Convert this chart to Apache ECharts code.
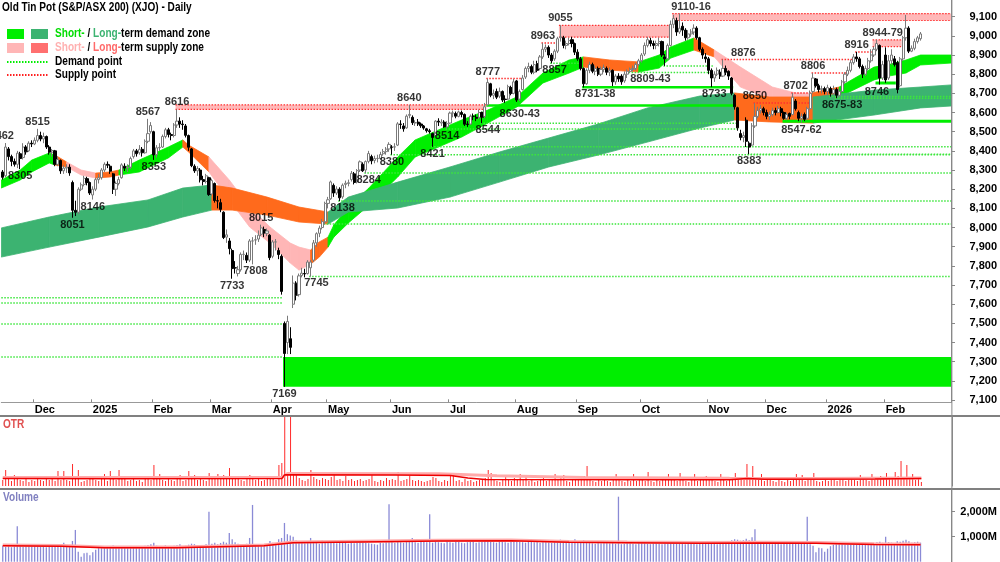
<!DOCTYPE html>
<html><head><meta charset="utf-8">
<script src="https://cdn.jsdelivr.net/npm/echarts@6/dist/echarts.min.js"></script>
<style>html,body{margin:0;padding:0;background:#fff}#c{width:1000px;height:562px}</style>
</head><body><div id="c"></div><script>
// ---------- DATA ----------
// candles: [open, close, low, high]
const nov24=[[8290,8262,8250,8300],[8270,8420,8262,8441],[8410,8370,8350,8420],[8370,8345,8320,8380],[8345,8330,8318,8360],[8330,8388,8310,8400],[8385,8360,8305,8395],[8365,8420,8355,8440],[8420,8395,8380,8430],[8400,8440,8395,8450],[8440,8436,8420,8455]];
const dec24=[[8436,8455,8430,8470],[8455,8480,8445,8515],[8480,8462,8450,8500],[8462,8475,8440,8495],[8475,8420,8410,8480],[8420,8393,8380,8430],[8393,8402,8370,8410],[8400,8330,8320,8405],[8330,8355,8320,8370],[8350,8296,8280,8355],[8296,8310,8280,8325],[8310,8315,8285,8330],[8315,8285,8270,8330],[8235,8090,8051,8245],[8090,8080,8060,8140],[8080,8200,8070,8210],[8200,8223,8190,8235],[8225,8257,8215,8270],[8255,8235,8220,8265],[8235,8180,8170,8240]];
const jan25=[[8170,8200,8146,8215],[8200,8250,8190,8260],[8250,8260,8230,8280],[8260,8300,8250,8310],[8300,8330,8290,8340],[8330,8325,8310,8345],[8320,8294,8280,8330],[8280,8200,8175,8285],[8200,8230,8165,8240],[8230,8250,8220,8265],[8260,8327,8255,8335],[8320,8310,8295,8335],[8310,8315,8290,8330],[8315,8360,8305,8370],[8370,8400,8360,8410],[8400,8385,8370,8410],[8390,8408,8380,8430],[8408,8390,8370,8420],[8390,8450,8385,8460],[8450,8490,8440,8567],[8500,8532,8490,8550]];
const feb25=[[8500,8379,8353,8505],[8380,8416,8365,8430],[8416,8418,8400,8440],[8420,8475,8415,8485],[8475,8510,8465,8520],[8510,8485,8470,8520],[8485,8480,8455,8495],[8480,8535,8470,8545],[8535,8555,8520,8616],[8555,8540,8520,8575],[8540,8537,8510,8560],[8530,8481,8470,8540],[8480,8419,8400,8485],[8410,8323,8315,8415],[8320,8296,8285,8330],[8296,8308,8270,8320],[8300,8249,8235,8310],[8250,8240,8220,8270],[8240,8270,8230,8280],[8260,8172,8165,8265]];
const mar25=[[8175,8245,8165,8255],[8230,8141,8130,8235],[8140,8138,8100,8165],[8130,8095,8080,8150],[8080,7948,7940,8085],[7950,7962,7920,7990],[7930,7890,7860,7945],[7880,7786,7733,7890],[7790,7789,7760,7825],[7760,7780,7745,7800],[7780,7860,7770,7870],[7860,7860,7830,7880],[7855,7830,7815,7870],[7830,7930,7820,7940],[7930,7930,7808,7950],[7935,7936,7910,7960],[7940,7960,7925,7985],[7965,7998,7955,8015],[7990,7971,7950,8005],[7970,7982,7955,7995],[7960,7843,7830,7965]];
const apr25=[[7850,7925,7840,7935],[7925,7925,7880,7940],[7880,7859,7835,7895],[7850,7667,7650,7860],[7500,7343,7169,7510],[7400,7510,7340,7540],[7420,7375,7340,7480],[7600,7710,7580,7750],[7710,7647,7620,7720],[7650,7748,7640,7760],[7750,7762,7740,7790],[7760,7758,7740,7785],[7760,7820,7755,7830],[7790,7820,7745,7830],[7830,7920,7820,7935],[7920,7968,7900,7975],[7970,7997,7950,8010],[8000,8031,7990,8045],[8030,8126,8018,8135]];
const may25=[[8126,8145,8100,8160],[8150,8238,8145,8245],[8220,8180,8160,8230],[8180,8201,8170,8215],[8200,8155,8138,8210],[8160,8221,8150,8230],[8225,8231,8205,8245],[8230,8234,8215,8250],[8250,8283,8240,8295],[8280,8235,8225,8290],[8240,8297,8230,8305],[8300,8343,8290,8350],[8330,8296,8290,8340],[8300,8344,8284,8350],[8345,8386,8335,8400],[8370,8348,8330,8380],[8350,8360,8335,8375],[8360,8361,8340,8380],[8360,8381,8355,8395],[8385,8396,8375,8410],[8396,8409,8380,8420],[8410,8434,8395,8445]];
const jun25=[[8420,8419,8380,8430],[8420,8421,8400,8440],[8430,8541,8425,8550],[8540,8538,8515,8560],[8530,8515,8500,8545],[8520,8581,8515,8590],[8585,8590,8570,8640],[8575,8547,8535,8585],[8545,8548,8530,8560],[8550,8540,8530,8566],[8540,8531,8520,8548],[8530,8519,8510,8535],[8515,8505,8495,8520],[8505,8500,8490,8515],[8490,8470,8421,8495],[8480,8555,8475,8560],[8555,8550,8530,8570],[8545,8550,8530,8565],[8550,8525,8520,8560],[8525,8542,8514,8555]];
const jul25=[[8545,8597,8540,8605],[8597,8598,8575,8610],[8595,8581,8570,8605],[8580,8603,8575,8610],[8600,8590,8575,8610],[8590,8539,8530,8595],[8540,8538,8525,8555],[8540,8581,8535,8590],[8580,8580,8560,8595],[8575,8570,8555,8590],[8575,8600,8565,8615],[8600,8576,8544,8605],[8580,8630,8570,8650],[8640,8757,8635,8777],[8750,8690,8680,8755],[8690,8700,8670,8720],[8710,8680,8670,8725],[8685,8710,8675,8730],[8710,8665,8655,8715],[8670,8668,8650,8690],[8670,8735,8665,8745],[8730,8700,8690,8740],[8700,8760,8695,8775]];
const aug25=[[8765,8665,8655,8770],[8670,8710,8660,8720],[8720,8780,8715,8795],[8785,8830,8775,8840],[8830,8840,8810,8860],[8840,8810,8800,8850],[8810,8850,8800,8870],[8855,8820,8810,8870],[8830,8890,8820,8900],[8890,8930,8880,8963],[8930,8940,8915,8955],[8940,8900,8885,8950],[8900,8870,8857,8910],[8880,8920,8870,8930],[8920,8985,8910,8995],[8990,8995,8970,9055],[8990,8950,8935,9000],[8950,8960,8930,8975],[8960,8975,8950,8990],[8980,8960,8940,8995],[8960,8915,8900,8965]];
const sep25=[[8915,8880,8870,8930],[8880,8830,8820,8890],[8830,8750,8731,8835],[8750,8820,8745,8830],[8820,8850,8805,8865],[8850,8815,8805,8860],[8815,8830,8795,8845],[8830,8800,8790,8840],[8800,8825,8790,8840],[8825,8835,8810,8850],[8830,8810,8795,8840],[8810,8820,8790,8835],[8820,8760,8738,8825],[8760,8790,8745,8800],[8790,8775,8760,8805],[8790,8760,8745,8800],[8765,8800,8755,8815],[8800,8815,8780,8825],[8815,8825,8809,8835],[8825,8830,8815,8845],[8830,8850,8820,8860],[8850,8870,8840,8880]];
const oct25=[[8870,8900,8860,8910],[8905,8950,8895,8965],[8950,8980,8940,8995],[8975,8960,8945,8990],[8960,8950,8930,8975],[8950,8960,8930,8975],[8960,8970,8945,8990],[8970,8900,8890,8975],[8890,8880,8843,8905],[8880,8950,8875,8960],[8950,9060,8945,9080],[9060,9090,9040,9110],[9080,9020,9000,9095],[9020,9040,9010,9116],[9050,9030,9000,9070],[9030,8990,8975,9040],[8990,9010,8980,9030],[9010,9020,8995,9035],[9020,9040,9005,9060],[9040,8990,8980,9050],[8990,8930,8920,8995],[8930,8900,8880,8940],[8890,8880,8860,8910]];
const nov25=[[8880,8820,8800,8890],[8820,8780,8733,8830],[8780,8800,8760,8815],[8800,8820,8790,8835],[8810,8790,8775,8825],[8790,8830,8785,8876],[8830,8810,8795,8845],[8815,8790,8770,8820],[8780,8700,8690,8785],[8690,8630,8615,8695],[8625,8520,8505,8630],[8490,8470,8455,8510],[8470,8480,8445,8500],[8560,8450,8420,8575],[8440,8420,8383,8450],[8430,8530,8425,8545],[8530,8580,8520,8650],[8580,8610,8570,8630],[8610,8620,8595,8640],[8620,8600,8585,8630]];
const dec25=[[8600,8580,8565,8615],[8580,8590,8560,8605],[8590,8610,8580,8625],[8610,8600,8585,8625],[8600,8620,8595,8635],[8620,8600,8580,8630],[8600,8570,8562,8605],[8570,8590,8560,8600],[8595,8580,8565,8600],[8590,8680,8585,8702],[8660,8620,8610,8670],[8600,8570,8555,8610],[8570,8580,8547,8595],[8590,8565,8555,8600],[8570,8620,8560,8630],[8620,8700,8615,8715],[8710,8780,8700,8806],[8775,8740,8730,8780],[8740,8720,8705,8750],[8720,8725,8700,8740],[8725,8710,8695,8735]];
const jan26=[[8710,8730,8690,8745],[8725,8700,8683,8735],[8700,8720,8690,8740],[8720,8690,8675,8730],[8690,8710,8680,8725],[8710,8760,8705,8770],[8760,8800,8750,8810],[8800,8820,8790,8840],[8820,8860,8810,8875],[8860,8890,8850,8905],[8890,8880,8865,8916],[8880,8840,8830,8890],[8840,8800,8780,8850],[8800,8830,8790,8845],[8830,8870,8820,8885],[8870,8900,8860,8930],[8900,8930,8890,8944],[8930,8960,8920,8979],[8950,8780,8746,8955],[8780,8850,8770,8870]];
const feb26=[[8900,8770,8755,8940],[8780,8870,8770,8900],[8870,8900,8850,8930],[8880,8850,8840,8895],[8860,8720,8700,8870],[8740,8880,8730,8890],[8880,8990,8870,9000],[8990,9040,8975,9109],[9040,8920,8910,9050],[8920,8935,8915,8950],[8935,8970,8925,8985],[8970,8990,8960,9000],[8985,9010,8975,9020]];

// volume (millions)
const volume=[].concat(
[640,600,620,580,610,1420,650,600,640,700,700],
[620,660,600,640,580,610,620,590,650,700,760,620,640,830,1270,400,200,340,360,260],
[380,480,560,600,620,590,610,650,600,580,620,600,560,610,590,620,580,600,640,660,700],
[760,640,620,600,650,620,600,640,660,700,600,640,680,720,700,640,660,650,700,2000],
[720,760,700,750,800,760,1150,900,780,720,700,690,720,950,2270,700,680,650,640,700,830],
[760,720,900,950,1550,1100,1050,1000,850,780,760,740,760,950,780,760,720,850,800],
[820,780,760,740,800,760,780,720,760,740,760,800,780,760,740,720,700,680,760,740,780,2300],
[800,760,820,780,760,800,840,950,780,760,800,820,780,1900,760,800,780,760,740,820],
[780,760,820,800,760,740,780,800,820,760,780,800,840,860,800,780,760,820,800,780,760,800,880],
[820,800,780,760,800,820,780,800,760,800,840,780,760,800,820,880,820,780,800,760,900],
[800,820,860,780,760,740,720,760,740,780,760,740,780,720,2600,700,720,760,740,720,700,760],
[760,740,720,700,740,760,720,700,740,760,800,780,760,720,740,700,720,760,740,700,720,760,820],
[760,740,720,700,760,740,780,820,860,900,880,840,860,920,860,980,1300,820,780,760],
[740,720,700,720,740,700,720,760,740,720,740,780,760,720,1800,700,640,380,560,540,400],
[520,620,680,700,720,740,700,720,760,740,720,760,740,700,720,760,740,780,800,760],
[1000,780,760,740,820,800,840,880,820,760,780,800,760]);
// OTR (relative units)
const otr=[].concat(
[6,16,7,5,11,8,6,5,7,4,6],
[5,7,6,5,8,6,9,5,15,6,15,6,5,22,9,16,4,5,6,7],
[8,6,5,7,12,5,15,9,6,16,7,9,5,6,7,5,6,4,10,7,6],
[21,8,12,6,5,7,6,5,8,11,5,6,15,9,11,6,7,6,5,13],
[7,9,12,8,11,7,18,9,8,7,6,5,7,11,9,6,10,5,6,9,8],
[7,6,21,23,80,12,80,14,11,8,6,5,7,16,9,7,6,8,7],
[6,9,12,6,7,5,10,6,7,5,6,7,5,6,7,11,5,4,6,5,8,6],
[7,6,14,5,6,7,10,6,5,6,5,4,5,6,9,8,5,4,6,5],
[10,12,5,6,4,7,5,6,4,5,6,7,8,16,13,6,5,4,6,9,7,5,8],
[7,12,6,11,5,6,4,5,7,10,5,6,7,12,6,8,11,5,4,6,7],
[6,8,10,20,6,5,4,6,5,9,5,4,8,12,6,5,4,6,5,12,5,6],
[6,5,14,5,4,6,5,8,9,12,7,6,5,13,6,5,4,6,12,5,6,7,10],
[6,8,5,4,12,6,5,7,9,13,8,7,6,22,8,20,9,6,12,5],
[6,9,5,4,6,5,4,6,5,8,12,6,11,5,7,6,13,5,4,5,6],
[5,6,9,5,6,7,5,6,8,6,5,11,8,6,5,12,6,8,10,9],
[13,7,8,14,10,25,9,21,8,12,6,7,4]);
const otrAvg=[[0,7.4],[40,7.3],[96,7.5],[97,11.2],[135,11.0],[154,10.5],[160,8],[166,6.4],[220,6.2],[250,6.3],[256,7.6],[262,6.8],[300,7.0],[316,7.4]];
const otrAvg2=[[0,8.4],[96,8.5],[98,12.4],[150,12.2],[170,10.2],[200,8.6],[250,7.8],[280,7.6],[316,8.0]];
const volAvg=[[0,640],[20,620],[35,560],[60,560],[75,600],[90,640],[100,760],[115,780],[130,800],[150,830],[175,840],[195,780],[215,760],[240,740],[260,750],[280,740],[300,690],[316,680]];

// short-term band samples (index, top, bottom, colour code of following segment)
const stIdx=[0,6,10,16,18,22,27,32,37,40,47,57,62,64,71,78,85,92,99,102,106,109,112,114,119,126,136,142,150,158,167,177,186,195,200,209,219,226,230,238,245,254,265,273,278,288,300,305,311,316,326];
const stTop=[8248,8300,8352,8389,8378,8342,8300,8284,8290,8300,8352,8420,8457,8430,8368,8248,8107,8003,7919,7898,7883,7925,7950,8013,8107,8205,8368,8457,8509,8561,8613,8681,8806,8874,8890,8874,8864,8900,8942,8989,8926,8837,8733,8702,8700,8733,8837,8850,8874,8900,8900];
const stBot=[8206,8248,8290,8337,8326,8316,8274,8258,8264,8274,8290,8363,8420,8394,8290,8144,8003,7919,7815,7778,7809,7846,7898,7950,8024,8115,8264,8368,8420,8472,8545,8629,8754,8806,8837,8822,8811,8832,8884,8926,8890,8733,8665,8629,8640,8681,8770,8790,8806,8848,8858];
const stCol=[0,0,0,0,3,2,2,3,3,0,0,0,3,3,2,2,2,2,2,2,3,3,0,0,0,0,0,0,0,0,0,0,0,0,3,3,0,0,0,3,2,2,2,2,3,0,0,0,0,0,0];
// long-term band samples
const ltIdx=[0,16,33,50,62,72,79,91,102,112,119,136,154,171,188,205,222,240,252,264,279,300,316,326];
const ltTop=[7998,8055,8107,8144,8206,8222,8206,8159,8107,8081,8159,8237,8316,8394,8467,8540,8624,8686,8702,8681,8681,8717,8733,8744];
const ltBot=[7846,7898,7950,8003,8055,8091,8091,8065,8029,8018,8081,8102,8159,8237,8316,8378,8446,8519,8561,8551,8545,8587,8624,8634];
const ltCol=[1,1,1,1,1,3,3,3,3,1,1,1,1,1,1,1,1,1,3,3,1,1,1,1];

// levels: [startIdx, endIdx, top, bottom, kind] kind 0 demand pt, 1 supply pt, 2 demand zone, 3 supply zone
const levels=[
[0,96,7634,7634,0],[0,96,7606,7606,0],[0,96,7497,7497,0],[0,96,7325,7325,0],
[97,326,7325,7169,2],
[106,326,7745,7745,0],[111,326,8018,8018,0],[116,326,8138,8138,0],[125,326,8284,8284,0],[134,326,8380,8380,0],[148,326,8421,8421,0],
[153,253,8514,8514,0],[165,253,8544,8544,0],
[60,166,8640,8616,3],
[167,252,8643,8630,2],
[167,178,8777,8777,1],[186,191,8963,8963,1],
[189,199,8857,8857,0],
[192,230,9055,8993,3],
[200,251,8738,8731,2],
[216,244,8809,8809,0],[228,244,8843,8843,0],
[231,326,9116,9080,3],
[248,292,8876,8876,1],
[257,326,8383,8383,0],
[259,278,8650,8650,1],
[269,326,8562,8547,2],
[272,278,8702,8702,1],[279,291,8806,8806,1],
[285,326,8683,8683,0],[287,326,8675,8675,0],
[294,299,8916,8916,1],
[300,309,8979,8944,3],
[301,307,8762,8746,2]];

const hiLabels=[[0,8441,'8462'],[12,8515,'8515'],[50,8567,'8567'],[60,8616,'8616'],[89,8015,'8015'],[140,8640,'8640'],[167,8777,'8777'],[186,8963,'8963'],[192,9055,'9055'],[237,9116,'9110-16'],[255,8876,'8876'],[259,8650,'8650'],[273,8702,'8702'],[279,8806,'8806'],[294,8916,'8916'],[303,8979,'8944-79']];
const loLabels=[[6,8305,'8305'],[24,8051,'8051'],[31,8146,'8146'],[52,8353,'8353'],[79,7733,'7733'],[87,7808,'7808'],[97,7169,'7169'],[108,7745,'7745'],[117,8138,'8138'],[126,8284,'8284'],[134,8380,'8380'],[148,8421,'8421'],[153,8514,'8514'],[167,8544,'8544'],[178,8630,'8630-43'],[190,8857,'8857'],[204,8731,'8731-38'],[223,8809,'8809-43'],[245,8733,'8733'],[257,8383,'8383'],[275,8547,'8547-62'],[289,8675,'8675-83'],[301,8746,'8746']];

const priceTicks=[7100,7200,7300,7400,7500,7600,7700,7800,7900,8000,8100,8200,8300,8400,8500,8600,8700,8800,8900,9000,9100];
const volTicks=[1000,2000];

// ---------- BUILD ----------
const candles=[].concat(nov24,dec24,jan25,feb25,mar25,apr25,may25,jun25,jul25,aug25,sep25,oct25,nov25,dec25,jan26,feb26);
const holidays=new Set(['2024-12-25','2024-12-26','2025-01-01','2025-01-27','2025-04-18','2025-04-21','2025-04-25','2025-06-09','2025-12-25','2025-12-26','2026-01-01','2026-01-26']);
const cats=[];
{let d=new Date(Date.UTC(2024,10,15));
 while(cats.length<candles.length){const wd=d.getUTCDay();const s=d.toISOString().slice(0,10);
  if(wd!==0&&wd!==6&&!holidays.has(s))cats.push(s);d.setUTCDate(d.getUTCDate()+1);}}
const N=cats.length;
for(let i=1;i<=10;i++)cats.push('f'+i);
const MN=['Jan','Feb','Mar','Apr','May','Jun','Jul','Aug','Sep','Oct','Nov','Dec'];
const isMS=cats.map((c,i)=>i>0&&i<N&&c.slice(5,7)!==cats[i-1].slice(5,7));
const mLabel=cats.map((c,i)=>{if(!isMS[i])return'';const m=+c.slice(5,7);return m===1?c.slice(0,4):MN[m-1];});

const FONT="'Liberation Sans',Arial,sans-serif";
const FS=11;
const fmt=v=>Math.round(v).toLocaleString('en-US');
const BANDCOL=['#00ee00','#3cb371','#ffb6b6','#ff6a1c'];
const LAST=cats.length-1;
function bandData(ix,t,b,c){const o=[];for(let i=0;i<ix.length-1;i++)o.push([ix[i],ix[i+1],t[i],b[i],t[i+1],b[i+1],c[i]]);return o;}
function renderBand(p,api){
  const i0=api.value(0),i1=api.value(1),bw=api.size([1,0])[0];
  const a=api.coord([i0,api.value(2)]),b=api.coord([i0,api.value(3)]),c=api.coord([i1,api.value(4)]),d=api.coord([i1,api.value(5)]);
  let xl=a[0],xr=c[0];if(i0===0)xl-=bw/2;if(i1===LAST)xr+=bw/2;
  const col=BANDCOL[api.value(6)];
  return {type:'polygon',shape:{points:[[xl,a[1]],[xr,c[1]],[xr,d[1]],[xl,b[1]]]},style:{fill:col,stroke:col,lineWidth:0.8}};
}
function renderLevel(p,api){
  const s=api.value(0),e=api.value(1),k=api.value(4),bw=api.size([1,0])[0];
  const pt=api.coord([s,api.value(2)]),pb=api.coord([e,api.value(3)]);
  const x1=pt[0]-bw/2,x2=pb[0]+bw/2,yT=pt[1],yB=pb[1];
  if(k===0||k===1)return {type:'line',shape:{x1:x1,y1:yT,x2:x2,y2:yT},style:{stroke:k===0?'#3ce63c':'#ff3030',lineWidth:1.5,lineDash:[1.5,1.5]}};
  if(k===2)return {type:'rect',shape:{x:x1,y:yT,width:x2-x1,height:Math.max(yB-yT,2.5)},style:{fill:'#00ee00'}};
  return {type:'group',children:[
    {type:'rect',shape:{x:x1,y:yT,width:x2-x1,height:Math.max(yB-yT,2)},style:{fill:'#ffb8b8'}},
    {type:'line',shape:{x1:x1,y1:yT,x2:x2,y2:yT},style:{stroke:'#ff3030',lineWidth:1.2,lineDash:[1.5,1.5]}},
    {type:'line',shape:{x1:x1,y1:yB,x2:x2,y2:yB},style:{stroke:'#ff3030',lineWidth:1.2,lineDash:[1.5,1.5]}}]};
}
const lblStyle={show:true,formatter:'{b}',color:'#000',fontWeight:'bold',fontSize:FS,fontFamily:FONT,distance:1};
const GL=1.3,GR=48.1;
const SX=0.84;
const TF='bold 12px '+FONT;
const txt=(x,y,text,fill)=>({type:'text',x:x,y:y,scaleX:SX,z:10,style:{text:text,fill:fill||'#000',font:TF}});

const chart=echarts.init(document.getElementById('c'),null,{renderer:'canvas'});
chart.setOption({
  animation:false,
  grid:[{left:GL,right:GR,top:0,height:402.3},{left:GL,right:GR,top:416,height:70},{left:GL,right:GR,top:489,height:72.7}],
  xAxis:[
    {type:'category',gridIndex:0,data:cats,boundaryGap:true,
     axisLine:{show:true,lineStyle:{color:'#999',width:1}},
     axisTick:{show:true,inside:true,length:3,interval:(i)=>isMS[i],lineStyle:{color:'#888'}},
     axisLabel:{show:true,interval:(i)=>isMS[i],formatter:(v,i)=>mLabel[i],align:'left',margin:2,color:'#000',fontWeight:'bold',fontSize:FS,fontFamily:FONT},
     splitLine:{show:false}},
    {type:'category',gridIndex:1,data:cats,show:false},
    {type:'category',gridIndex:2,data:cats,show:false}],
  yAxis:[
    {type:'value',gridIndex:0,position:'right',min:7088.4,max:9187,
     axisLine:{show:true,lineStyle:{color:'#888'}},
     axisTick:{show:true,length:4,customValues:priceTicks,lineStyle:{color:'#888'}},
     axisLabel:{customValues:priceTicks,formatter:fmt,align:'right',margin:46,color:'#000',fontWeight:'bold',fontSize:FS,fontFamily:FONT},
     splitLine:{show:false}},
    {type:'value',gridIndex:1,position:'right',min:0,max:70,axisLine:{show:true,lineStyle:{color:'#888'}},axisTick:{show:false},axisLabel:{show:false},splitLine:{show:false}},
    {type:'value',gridIndex:2,position:'right',min:0,max:2908,
     axisLine:{show:true,lineStyle:{color:'#888'}},
     axisTick:{show:true,length:4,customValues:volTicks,lineStyle:{color:'#888'}},
     axisLabel:{customValues:volTicks,formatter:v=>fmt(v)+'M',align:'right',margin:46,color:'#000',fontWeight:'bold',fontSize:FS,fontFamily:FONT},
     splitLine:{show:false}}],
  series:[
    {type:'custom',name:'st',xAxisIndex:0,yAxisIndex:0,z:1,clip:true,silent:true,renderItem:renderBand,encode:{x:[0,1],y:[2,3,4,5]},data:bandData(stIdx,stTop,stBot,stCol)},
    {type:'custom',name:'lt',xAxisIndex:0,yAxisIndex:0,z:2,clip:true,silent:true,renderItem:renderBand,encode:{x:[0,1],y:[2,3,4,5]},data:bandData(ltIdx,ltTop,ltBot,ltCol)},
    {type:'custom',name:'levels',xAxisIndex:0,yAxisIndex:0,z:3,clip:true,silent:true,renderItem:renderLevel,encode:{x:[0,1],y:[2,3]},data:levels},
    {type:'candlestick',xAxisIndex:0,yAxisIndex:0,z:5,barWidth:2.6,silent:true,data:candles,
     itemStyle:{color:'#ffffff',color0:'#000000',borderColor:'#7a7a7a',borderColor0:'#000000',borderWidth:1}},
    {type:'scatter',xAxisIndex:0,yAxisIndex:0,z:6,silent:true,symbolSize:1,itemStyle:{color:'rgba(0,0,0,0)'},
     data:hiLabels.map((r,i)=>i===0?{value:[r[0],r[1]],name:r[2],label:{offset:[-1,0]}}:{value:[r[0],r[1]],name:r[2]}),label:Object.assign({position:'top'},lblStyle)},
    {type:'scatter',xAxisIndex:0,yAxisIndex:0,z:6,silent:true,symbolSize:1,itemStyle:{color:'rgba(0,0,0,0)'},
     data:loLabels.map(r=>({value:[r[0],r[1]],name:r[2]})),label:Object.assign({position:'bottom'},lblStyle)},
    {type:'bar',xAxisIndex:1,yAxisIndex:1,barWidth:1,silent:true,data:otr,itemStyle:{color:'#ff2a2a'}},
    {type:'line',xAxisIndex:1,yAxisIndex:1,silent:true,showSymbol:false,data:otrAvg2,lineStyle:{color:'#ffaaaa',width:3},z:3},
    {type:'line',xAxisIndex:1,yAxisIndex:1,silent:true,showSymbol:false,data:otrAvg,lineStyle:{color:'#ee0000',width:1.5},z:4},
    {type:'bar',xAxisIndex:2,yAxisIndex:2,barWidth:1.3,silent:true,data:volume,itemStyle:{color:'#8a8ad6'}},
    {type:'line',xAxisIndex:2,yAxisIndex:2,silent:true,showSymbol:false,data:volAvg.map(p=>[p[0],p[1]+25]),lineStyle:{color:'#ffaaaa',width:3},z:3},
    {type:'line',xAxisIndex:2,yAxisIndex:2,silent:true,showSymbol:false,data:volAvg,lineStyle:{color:'#ee0000',width:1.5},z:4}
  ],
  graphic:[
    {type:'line',shape:{x1:0,y1:416,x2:1000,y2:416},style:{stroke:'#808080',lineWidth:2},z:10},
    {type:'line',shape:{x1:0,y1:489,x2:1000,y2:489},style:{stroke:'#808080',lineWidth:2},z:10},
    {type:'line',shape:{x1:951.9,y1:0,x2:951.9,y2:562},style:{stroke:'#888',lineWidth:1},z:10},
    txt(2,2,'Old Tin Pot (S&P/ASX 200) (XJO) - Daily'),
    {type:'rect',shape:{x:7,y:29,width:17,height:10},style:{fill:'#00ee00'},z:10},
    {type:'rect',shape:{x:31,y:29,width:17,height:10},style:{fill:'#3cb371'},z:10},
    {type:'rect',shape:{x:7,y:43,width:17,height:10},style:{fill:'#ffb6b6'},z:10},
    {type:'rect',shape:{x:31,y:43,width:17,height:10},style:{fill:'#ff7070'},z:10},
    {type:'line',shape:{x1:7,y1:62,x2:48,y2:62},style:{stroke:'#00ee00',lineWidth:2,lineDash:[1.5,1.5]},z:10},
    {type:'line',shape:{x1:7,y1:75,x2:48,y2:75},style:{stroke:'#ff2020',lineWidth:2,lineDash:[1.5,1.5]},z:10},
    {type:'text',x:55,y:28,scaleX:SX,z:10,style:{text:'{a|Short-} / {b|Long-}term demand zone',fill:'#000',font:TF,
      rich:{a:{fill:'#00dd00',font:TF},b:{fill:'#3cb371',font:TF}}}},
    {type:'text',x:55,y:42,scaleX:SX,z:10,style:{text:'{a|Short-} / {b|Long-}term supply zone',fill:'#000',font:TF,
      rich:{a:{fill:'#ffb0b0',font:TF},b:{fill:'#ff6a6a',font:TF}}}},
    txt(55,56,'Demand point'),
    txt(55,69,'Supply point'),
    txt(3,419,'OTR','#e05050'),
    txt(3,492,'Volume','#8080c0')
  ]
});
</script></body></html>
